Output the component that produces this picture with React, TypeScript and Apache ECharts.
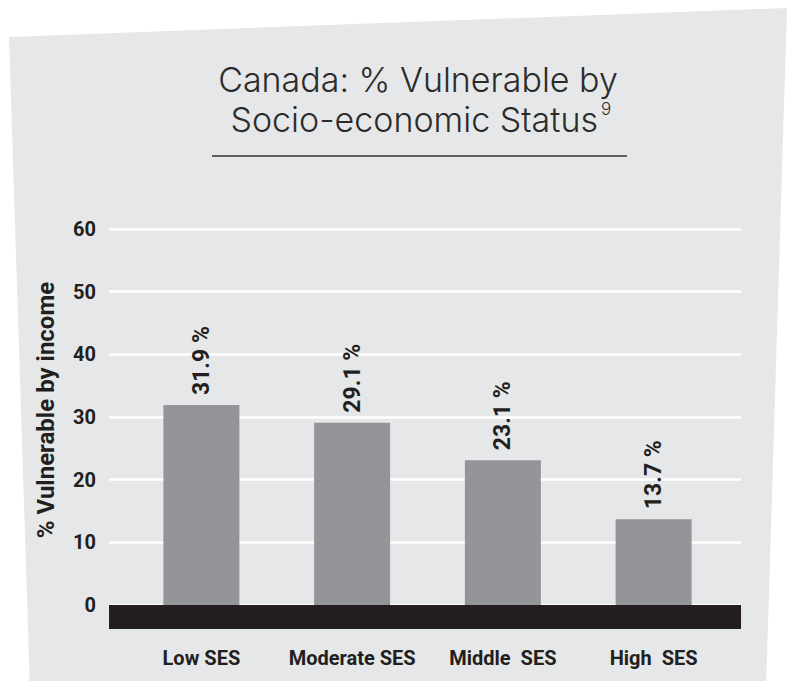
import React, { useEffect, useRef } from "react";
import * as echarts from "echarts";

const categories = ["Low SES", "Moderate SES", "Middle  SES", "High  SES"];
const values = [31.9, 29.1, 23.1, 13.7];
const yTicks = { min: 0, max: 60, interval: 10 };
const titleLine1 = "Canada: % Vulnerable by";
const titleLine2 = "Socio-economic Status";
const titleNote = "9";
const yName = "% Vulnerable by income";

const FONT = "Roboto, 'DejaVu Sans', sans-serif";
const TITLE_FONT = "Inter, Roboto, sans-serif";
const DARK = "#231f20";

export default function App() {
  const ref = useRef<HTMLDivElement>(null);
  useEffect(() => {
    if (!ref.current) return;
    const chart = echarts.init(ref.current, undefined, { renderer: "svg" });
    chart.setOption({
      animation: false,
      backgroundColor: "#ffffff",
      graphic: [
        {
          type: "polygon",
          z: -10,
          shape: { points: [[9, 37], [787, 8], [766, 690], [30, 690]] },
          style: { fill: "#e6e7e8" },
          silent: true,
        },
        {
          type: "text",
          x: 418,
          y: 79,
          style: {
            text: titleLine1,
            font: `300 34px ${TITLE_FONT}`,
            fill: "#2b2b2b",
            align: "center",
            verticalAlign: "middle",
          },
        },
        {
          type: "text",
          x: 598,
          y: 119,
          style: {
            text: titleLine2,
            font: `300 34px ${TITLE_FONT}`,
            fill: "#2b2b2b",
            align: "right",
            verticalAlign: "middle",
          },
        },
        {
          type: "text",
          x: 601,
          y: 100,
          style: {
            text: titleNote,
            font: `300 17px ${TITLE_FONT}`,
            fill: "#2b2b2b",
            align: "left",
            verticalAlign: "top",
          },
        },
        {
          type: "line",
          shape: { x1: 212, y1: 156, x2: 627, y2: 156 },
          style: { stroke: "#333333", lineWidth: 1.5 },
        },
      ],
      grid: [
        { left: 109, right: 50, top: 229, bottom: 76 },
        { left: 126, right: 62, top: 229, bottom: 76 },
      ],
      xAxis: [
        {
          gridIndex: 0,
          type: "value",
          min: 0,
          max: 1,
          axisLine: { show: true, onZero: false, lineStyle: { color: DARK, width: 24, cap: "butt" } },
          offset: 12,
          axisTick: { show: false },
          axisLabel: { show: false },
          splitLine: { show: false },
        },
        {
          gridIndex: 1,
          type: "category",
          data: categories,
          axisLine: { show: false },
          axisTick: { show: false },
          axisLabel: {
            interval: 0,
            hideOverlap: false,
            margin: 43,
            color: DARK,
            fontFamily: FONT,
            fontWeight: "bold",
            fontSize: 20,
          },
        },
      ],
      yAxis: [
        {
          gridIndex: 0,
          type: "value",
          min: yTicks.min,
          max: yTicks.max,
          interval: yTicks.interval,
          name: yName,
          nameLocation: "middle",
          nameGap: 51,
          nameTextStyle: {
            color: DARK,
            fontFamily: FONT,
            fontWeight: "bold",
            fontSize: 24,
            padding: [0, 0, 0, 14],
          },
          axisLine: { show: false },
          axisTick: { show: false },
          axisLabel: { margin: 13, color: DARK, fontFamily: FONT, fontWeight: "bold", fontSize: 20 },
          splitLine: { show: true, lineStyle: { color: "#ffffff", width: 2.5 } },
        },
        {
          gridIndex: 1,
          type: "value",
          min: yTicks.min,
          max: yTicks.max,
          interval: yTicks.interval,
          axisLine: { show: false },
          axisTick: { show: false },
          axisLabel: { show: false },
          splitLine: { show: false },
        },
      ],
      series: [
        {
          type: "bar",
          xAxisIndex: 1,
          yAxisIndex: 1,
          data: values,
          barWidth: 76,
          itemStyle: { color: "#939598" },
          label: {
            show: true,
            position: "top",
            rotate: 90,
            align: "left",
            verticalAlign: "middle",
            distance: 10,
            formatter: "{c} %",
            color: DARK,
            fontFamily: FONT,
            fontWeight: "bold",
            fontSize: 23,
          },
        },
      ],
    });
    return () => chart.dispose();
  }, []);
  return (
    <div
      ref={ref}
      style={{ position: "absolute", left: 0, top: 0, width: 791, height: 681 }}
    />
  );
}
